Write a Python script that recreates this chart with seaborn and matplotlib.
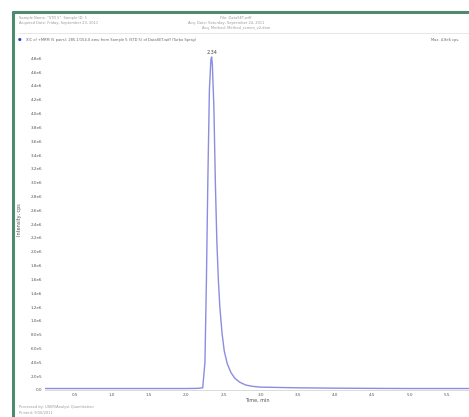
import seaborn as sns
import matplotlib.pyplot as plt
import pandas as pd

# XIC trace (time in min, intensity in cps)
time_min = [0.10, 0.50, 1.00, 1.50, 2.00, 2.15, 2.22, 2.25, 2.27, 2.29, 2.31, 2.33, 2.34,
            2.35, 2.37, 2.39, 2.41, 2.43, 2.45, 2.48, 2.51, 2.55, 2.60, 2.65, 2.72,
            2.80, 2.90, 3.00, 3.50, 4.00, 4.50, 5.00, 5.50, 5.80]
intensity = [2.0e4, 2.0e4, 2.0e4, 2.0e4, 2.0e4, 2.2e4, 3.0e4, 4.0e5, 1.6e6, 3.1e6, 4.35e6, 4.78e6, 4.82e6,
             4.7e6, 4.1e6, 3.0e6, 2.15e6, 1.6e6, 1.2e6, 0.82e6, 0.56e6, 0.38e6, 0.25e6, 0.17e6, 0.11e6,
             0.07e6, 0.05e6, 0.04e6, 3.0e4, 2.5e4, 2.2e4, 2.0e4, 2.0e4, 2.0e4]
peak_rt = 2.34
peak_label = "2.34"
x_ticks = [0.5, 1.0, 1.5, 2.0, 2.5, 3.0, 3.5, 4.0, 4.5, 5.0, 5.5]
y_ticks = [i * 2.0e5 for i in range(25)]

df = pd.DataFrame({"Time, min": time_min, "Intensity, cps": intensity})

sns.set_style("white")
fig = plt.figure(figsize=(4.69, 4.17), dpi=100)
ax = fig.add_axes([0.096, 0.065, 0.904, 0.815])

sns.lineplot(data=df, x="Time, min", y="Intensity, cps", ax=ax,
             color="#8c8ce0", linewidth=1.0)

ax.set_xlim(0.1, 5.8)
ax.set_ylim(0, 4.92e6)
ax.set_xticks(x_ticks)
ax.set_xticklabels([f"{t:.1f}" for t in x_ticks])
ax.set_yticks(y_ticks)
ax.set_yticklabels(["0.0"] + [f"{v/10**len(str(int(v)))*10:.1f}e{len(str(int(v)))-1}" for v in y_ticks[1:]])
ax.tick_params(axis="both", labelsize=3, colors="#555555", length=0, pad=2)
ax.set_xlabel("Time, min", fontsize=3.5, color="#555555", labelpad=1)
ax.set_ylabel("Intensity, cps", fontsize=3.5, color="#555555", labelpad=6)
for side in ["top", "right"]:
    ax.spines[side].set_visible(False)
ax.spines["left"].set_visible(False)
ax.spines["bottom"].set_color("#cccccc")
ax.spines["bottom"].set_linewidth(0.5)

ax.text(peak_rt, max(intensity) * 1.005, peak_label, fontsize=3.5, color="#444444",
        ha="center", va="bottom")

# window frame
fig.add_artist(plt.Line2D([0.028, 0.028], [0.0, 0.972], transform=fig.transFigure,
                          color="#4f8a6e", linewidth=2.2))
fig.add_artist(plt.Line2D([0.028, 1.0], [0.972, 0.972], transform=fig.transFigure,
                          color="#4f8a6e", linewidth=2.2))

# header
grey = "#9a9a9a"
fig.text(0.04, 0.955, "Sample Name: \"STD 5\"  Sample ID: 1", fontsize=2.6, color=grey)
fig.text(0.04, 0.943, "Acquired Date: Friday, September 23, 2011", fontsize=2.6, color=grey)
fig.text(0.47, 0.955, "File: DataSET.wiff", fontsize=2.6, color=grey)
fig.text(0.40, 0.943, "Acq. Date: Saturday, September 24, 2011", fontsize=2.6, color=grey)
fig.text(0.43, 0.931, "Acq. Method: Method_screen_v2.dam", fontsize=2.6, color=grey)
fig.add_artist(plt.Line2D([0.04, 1.0], [0.922, 0.922], transform=fig.transFigure,
                          color="#dddddd", linewidth=0.5))
fig.text(0.038, 0.905, "\u25cf", fontsize=3, color="#1f3fbf", va="center")
fig.text(0.056, 0.905, "XIC of +MRM (5 pairs): 285.1/154.0 amu from Sample 5 (STD 5) of DataSET.wiff (Turbo Spray)",
         fontsize=2.6, color="#666666", va="center")
fig.text(0.92, 0.905, "Max. 4.8e6 cps.", fontsize=2.6, color="#666666", va="center")

# footer
fig.text(0.04, 0.022, "Processed by: USER\\Analyst Quantitation", fontsize=2.6, color=grey)
fig.text(0.04, 0.008, "Printed: 9/26/2011", fontsize=2.6, color=grey)

fig.savefig("out.png", dpi=100)
